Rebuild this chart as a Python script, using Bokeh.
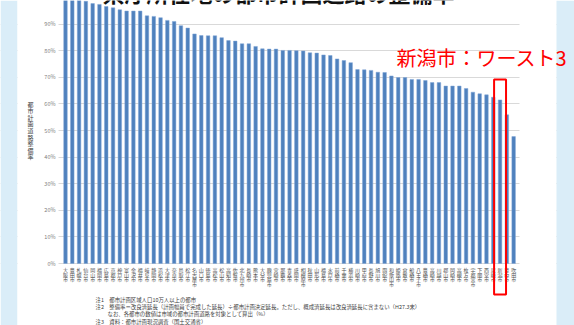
from bokeh.plotting import figure
from bokeh.models import Range1d, FixedTicker, Label, Grid
from bokeh.core.properties import value
from bokeh.embed import file_html
from bokeh.resources import INLINE

# --- data -----------------------------------------------------------------
cities = [
    "大阪市", "豊田市", "札幌市", "仙台市", "岡山市", "福岡市", "広島市", "京都市",
    "神戸市", "富山市", "金沢市", "福井市", "岐阜市", "静岡市", "浜松市", "大津市",
    "奈良市", "鳥取市", "松江市", "名古屋市", "山口市", "徳島市", "高松市", "松山市",
    "高知市", "佐賀市", "北九州市", "長崎市", "熊本市", "大分市", "鹿児島市", "宮崎市",
    "那覇市", "青森市", "盛岡市", "相模原市", "秋田市", "山形市", "福島市", "水戸市",
    "前橋市", "千葉市", "横浜市", "川崎市", "甲府市", "長野市", "旭川市", "函館市",
    "和歌山市", "姫路市", "倉敷市", "船橋市", "八王子市", "豊橋市", "高崎市", "川越市",
    "郡山市", "岡崎市", "高槻市", "枚方市", "宇都宮市", "下関市", "西宮市", "尼崎市",
    "新潟市", "豊中市", "吹田市",
]
rates = [
    100.0, 100.0, 99.5, 98.6, 97.7, 97.4, 96.6, 96.1,
    95.4, 94.9, 94.9, 94.9, 93.1, 92.9, 92.4, 91.4,
    91.0, 89.4, 88.5, 86.3, 85.7, 85.6, 85.6, 84.9,
    83.8, 83.6, 82.6, 82.6, 81.6, 80.7, 80.6, 80.6,
    80.1, 80.1, 80.0, 79.9, 79.2, 79.1, 78.4, 78.2,
    76.9, 76.3, 75.5, 72.9, 72.8, 72.6, 71.9, 71.8,
    70.5, 69.9, 69.9, 69.2, 69.2, 68.8, 68.0, 68.0,
    66.7, 66.7, 66.7, 65.8, 64.4, 63.8, 63.4, 62.5,
    61.5, 55.9, 47.7,
]
y_ticks = [0, 10, 20, 30, 40, 50, 60, 70, 80, 90]
y_tick_labels = [f"{t}%" for t in y_ticks]

chart_title = "県庁所在地の都市計画道路の整備率"
y_axis_title = "都市計画道路整備率"
highlight_city = "新潟市"
highlight_text = "新潟市：ワースト3"
notes = [
    "注1　都市計画区域人口10万人以上の都市",
    "注2　整備率＝改良済延長（計画幅員で完成した延長）÷都市計画決定延長。ただし、概成済延長は改良済延長に含まない（H27.3末）",
    "なお、各都市の数値は市域の都市計画道路を対象として算出（%）",
    "注3　資料：都市計画現況調査（国土交通省）",
]

# --- styling ---------------------------------------------------------------
JP = "Noto Sans CJK JP"
BAR_BLUE = "#4f81bd"
BAR_EDGE = "#7ea4d6"
PANEL_BLUE = "#daedf8"
GRID_GRAY = "#d9d9d9"
RED = "#ff0000"

W, H = 574, 325
PX_X = 6.79   # pixels per city
PX_Y = 2.66   # pixels per percentage point
FIRST_BAR_PX = 65
BASE_PX = 263  # pixel row of the 0% line

# the plot frame covers the whole page; ranges are set so one city is
# PX_X pixels wide and one percentage point is PX_Y pixels tall
x_start = -FIRST_BAR_PX / PX_X
x_end = x_start + W / PX_X
y_end = BASE_PX / PX_Y
y_start = -(H - BASE_PX) / PX_Y


def px_to_x(px):
    return x_start + px / PX_X


def px_to_y(py):
    return (BASE_PX - py) / PX_Y


idx = list(range(len(cities)))

p = figure(
    width=W, height=H,
    x_range=Range1d(x_start, x_end), y_range=Range1d(y_start, y_end),
    x_axis_location=None, y_axis_location=None, title=None,
    output_backend="svg", toolbar_location=None,
    min_border=0,
)
p.outline_line_color = None
p.background_fill_color = "white"
p.border_fill_color = "white"
p.grid.visible = False

# horizontal percent grid
p.add_layout(Grid(dimension=1, ticker=FixedTicker(ticks=y_ticks),
                  grid_line_color=GRID_GRAY, grid_line_width=1))

# page edges (light blue) and the white margins either side of the grid
p.quad(left=x_start, right=px_to_x(17), bottom=y_start, top=y_end,
       fill_color=PANEL_BLUE, line_color=None)
p.quad(left=px_to_x(17), right=px_to_x(58), bottom=y_start, top=y_end,
       fill_color="white", line_color=None)
p.quad(left=px_to_x(519), right=px_to_x(556), bottom=y_start, top=y_end,
       fill_color="white", line_color=None)
p.quad(left=px_to_x(556), right=x_end, bottom=y_start, top=y_end,
       fill_color=PANEL_BLUE, line_color=None)

# percent tick labels
p.text(x=[px_to_x(55)] * len(y_ticks), y=y_ticks, text=y_tick_labels,
       text_font=value(JP), text_font_size="5.5px", text_color="#808080",
       text_align="right", text_baseline="middle")

# vertical axis title, one character per row
p.text(x=[px_to_x(30)], y=[px_to_y(130)], text=["\n".join(y_axis_title)],
       text_font=value(JP), text_font_size="6px", text_color="#404040",
       text_align="center", text_baseline="middle", text_line_height=0.73)

# bars
p.vbar(x=idx, top=rates, bottom=0, width=0.52,
       fill_color=BAR_BLUE, line_color=BAR_EDGE, line_width=0.5)

# city names, written top to bottom under each bar
p.text(x=idx, y=-0.9, text=["\n".join(c) for c in cities],
       text_font=value(JP), text_font_size="5px", text_color="#505050",
       text_align="center", text_baseline="top", text_line_height=0.68)

# footnotes
note_x = [px_to_x(95), px_to_x(95), px_to_x(107), px_to_x(95)]
note_y = [px_to_y(299), px_to_y(306.5), px_to_y(313.5), px_to_y(321.5)]
p.text(x=note_x, y=note_y, text=notes,
       text_font=value(JP), text_font_size="5.4px", text_color="#404040",
       text_align="left", text_baseline="middle")

# highlight box around the worst-3 city
hi = cities.index(highlight_city)
p.quad(left=hi - 0.88, right=hi + 0.88, top=rates[hi] + 7.7, bottom=px_to_y(294),
       fill_color=None, line_color=RED, line_width=2)

p.add_layout(Label(
    x=px_to_x(396), y=px_to_y(57), text=highlight_text,
    text_font=JP, text_font_size="20px", text_color=RED,
    text_baseline="middle", text_align="left", level="overlay",
))

# headline (runs off the top edge)
p.add_layout(Label(
    x=px_to_x(102), y=px_to_y(-9), text=chart_title,
    text_font=JP, text_font_size="22px", text_font_style="bold",
    text_color="#111111", text_baseline="alphabetic", text_align="left",
    level="overlay",
))

open("out.html", "w").write(file_html(p, INLINE))
